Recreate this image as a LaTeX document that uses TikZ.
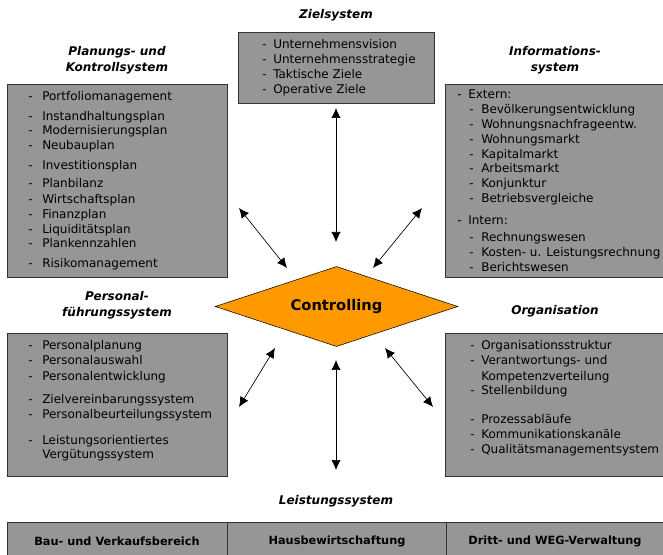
\documentclass[tikz,border=0pt]{standalone}
\usepackage{fontspec}
\setmainfont{DejaVu Sans}
\usetikzlibrary{arrows.meta,fit,shapes.geometric}
\definecolor{boxgray}{RGB}{150,150,150}
\definecolor{ctrlorange}{RGB}{255,153,0}

\begin{document}
\begin{tikzpicture}[x=0.75pt,y=-0.75pt,
  box/.style={draw=black!80,fill=boxgray,inner sep=0pt,line width=0.7pt},
  title/.style={font=\fontsize{9}{12}\selectfont\bfseries\itshape,align=center},
  item/.style={anchor=base west,inner sep=0pt,font=\fontsize{9}{10}\selectfont},
  cell/.style={font=\fontsize{8.5}{10}\selectfont\bfseries},
  link/.style={{Latex[length=7.5pt,width=7pt]}-{Latex[length=7.5pt,width=7pt]},line width=0.5pt}]
\clip (0,0) rectangle (663,555);

% boxes
\node[box,fit={(238,32) (434,103)}] (ziel) {};
\node[box,fit={(7,84) (227,277)}] (plan) {};
\node[box,fit={(445,84) (670,277)}] (info) {};
\node[box,fit={(7,333) (227,476)}] (pers) {};
\node[box,fit={(445,333) (670,476)}] (orga) {};
\node[box,fit={(7,522) (670,560)}] (leist) {};
\draw[draw=black!80,line width=0.7pt] (227,522) -- (227,560);
\draw[draw=black!80,line width=0.7pt] (446,522) -- (446,560);

% titles
\node[title] (ziel-t) at (336,15) {Zielsystem};
\node[title] (plan-t) at (117,60) {Planungs- und\\Kontrollsystem};
\node[title] (info-t) at (555,60) {Informations-\\system};
\node[title] (pers-t) at (117,305) {Personal-\\führungssystem};
\node[title] (orga-t) at (555,311) {Organisation};
\node[title] (leist-t) at (336,501) {Leistungssystem};

% controlling
\node[diamond,draw,fill=ctrlorange,aspect=3,minimum width=182pt,minimum height=60pt,inner sep=0pt,
  font=\fontsize{11}{13}\selectfont\bfseries] (ctrl) at (336.5,306.5) {Controlling};

% lists
\foreach \y/\t in {45/Unternehmensvision,60/Unternehmensstrategie,75/Taktische Ziele,90/Operative Ziele} {
  \node[item] at (262,\y+4) {-};
  \node[item] at (273,\y+4) {\t};
}
\foreach \y/\t in {97/Portfoliomanagement,117/Instandhaltungsplan,131/Modernisierungsplan,146/Neubauplan,
  166/Investitionsplan,184/Planbilanz,200/Wirtschaftsplan,215/Finanzplan,230/Liquiditätsplan,
  244/Plankennzahlen,264/Risikomanagement} {
  \node[item] at (28,\y+4) {-};
  \node[item] at (42,\y+4) {\t};
}
\node[item] at (457,95+4) {-};
\node[item] at (468,95+4) {Extern:};
\node[item] at (457,221+4) {-};
\node[item] at (468,221+4) {Intern:};
\foreach \y/\t in {110/Bevölkerungsentwicklung,125/Wohnungsnachfrageentw.,140/Wohnungsmarkt,155/Kapitalmarkt,
  169/Arbeitsmarkt,184/Konjunktur,199/Betriebsvergleiche,238/Rechnungswesen,
  253/Kosten- u. Leistungsrechnung,268/Berichtswesen} {
  \node[item] at (469,\y+4) {-};
  \node[item] at (481,\y+4) {\t};
}
\foreach \y/\t in {346/Personalplanung,361/Personalauswahl,376/Personalentwicklung,399/Zielvereinbarungssystem,
  414/Personalbeurteilungssystem,440/Leistungsorientiertes} {
  \node[item] at (28,\y+4) {-};
  \node[item] at (42,\y+4) {\t};
}
\node[item] at (42,454+4) {Vergütungssystem};
\foreach \y/\t in {346/Organisationsstruktur,361/Verantwortungs- und,390/Stellenbildung,419/Prozessabläufe,
  434/Kommunikationskanäle,449/Qualitätsmanagementsystem} {
  \node[item] at (470,\y+4) {-};
  \node[item] at (481,\y+4) {\t};
}
\node[item] at (481,376+4) {Kompetenzverteilung};

% leistungssystem cells
\node[cell] (bau) at (117,541) {Bau- und Verkaufsbereich};
\node[cell] (haus) at (337,541) {Hausbewirtschaftung};
\node[cell] (weg) at (555,541) {Dritt- und WEG-Verwaltung};

% arrow ends
\coordinate (ziel-a) at (336,108);
\coordinate (ctrl-n) at (336,242);
\coordinate (plan-a) at (239,208);
\coordinate (ctrl-nw) at (287,268);
\coordinate (info-a) at (422,208);
\coordinate (ctrl-ne) at (373,268);
\coordinate (ctrl-sw) at (275,348);
\coordinate (pers-a) at (239,407);
\coordinate (ctrl-se) at (385,348);
\coordinate (orga-a) at (433,407);
\coordinate (ctrl-s) at (336,360);
\coordinate (leist-a) at (336,470);

\draw[link] (ziel-a) -- (ctrl-n);
\draw[link] (plan-a) -- (ctrl-nw);
\draw[link] (info-a) -- (ctrl-ne);
\draw[link] (ctrl-sw) -- (pers-a);
\draw[link] (ctrl-se) -- (orga-a);
\draw[link] (ctrl-s) -- (leist-a);
\end{tikzpicture}
\end{document}
